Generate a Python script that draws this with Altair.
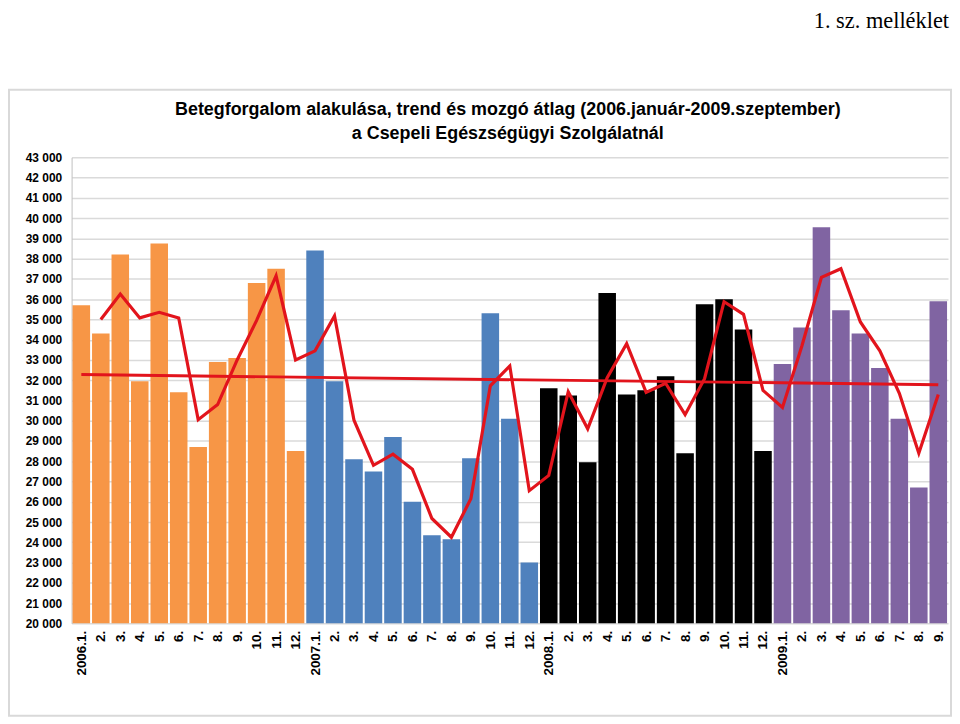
import altair as alt
import pandas as pd

labels = ["2006.1.", "2.", "3.", "4.", "5.", "6.", "7.", "8.", "9.", "10.", "11.", "12.",
          "2007.1.", "2.", "3.", "4.", "5.", "6.", "7.", "8.", "9.", "10.", "11.", "12.",
          "2008.1.", "2.", "3.", "4.", "5.", "6.", "7.", "8.", "9.", "10.", "11.", "12.",
          "2009.1.", "2.", "3.", "4.", "5.", "6.", "7.", "8.", "9."]
years = ["2006"] * 12 + ["2007"] * 12 + ["2008"] * 12 + ["2009"] * 9
values = [35700, 34300, 38200, 31950, 38750, 31400, 28700, 32900, 33100, 36800, 37500, 28500,
          38400, 31950, 28100, 27500, 29200, 26000, 24350, 24150, 28150, 35300, 30100, 23000,
          31600, 31250, 27950, 36300, 31300, 31500, 32200, 28400, 35750, 36000, 34500, 28500,
          32800, 34600, 39550, 35450, 34300, 32600, 30100, 26700, 35900]
year_names = ["2006", "2007", "2008", "2009"]
year_colors = ["#F79646", "#4F81BD", "#000000", "#8064A2"]
y_ticks = list(range(20000, 43001, 1000))

title_lines = ["Betegforgalom alakulása,  trend és mozgó átlag (2006.január-2009.szeptember)",
               "a Csepeli Egészségügyi Szolgálatnál"]
header = "1. sz. melléklet"

RED = "#E2141C"
W, H = 882, 469

df = pd.DataFrame({"idx": list(range(len(values))), "label": labels,
                   "year": years, "value": values})

label_expr = "[" + ",".join("'" + l + "'" for l in labels) + "][datum.value]"

x_scale = alt.Scale(domain=[-0.5, len(values) - 0.5], nice=False, zero=False)
x_axis = alt.Axis(title=None, values=list(range(len(values))), labelExpr=label_expr,
                  labelAngle=-90, labelFont="Liberation Sans", labelFontSize=13.5,
                  labelFontWeight="bold", labelColor="#000000", ticks=False,
                  domain=False, grid=False, labelPadding=7, labelOverlap=False)
y_scale = alt.Scale(domain=[20000, 43000], nice=False, zero=False)
y_axis = alt.Axis(title=None, values=y_ticks,
                  labelExpr="replace(format(datum.value, ','), ',', ' ')",
                  labelFont="Liberation Sans", labelFontSize=12, labelFontWeight="bold",
                  labelColor="#000000", ticks=False, domain=True, domainColor="#BFBFBF",
                  grid=True, gridColor="#DADADA", gridWidth=1.5, labelPadding=10)

base = alt.Chart(df)

bars = base.transform_calculate(
    x0="datum.idx - 0.45", x1="datum.idx + 0.45"
).mark_bar(opacity=1).encode(
    x=alt.X("x0:Q", scale=x_scale, axis=x_axis),
    x2="x1:Q",
    y=alt.Y("value:Q", scale=y_scale, axis=y_axis),
    y2=alt.datum(20000),
    color=alt.Color("year:N", scale=alt.Scale(domain=year_names, range=year_colors),
                    legend=None),
)

trend = base.transform_regression("idx", "value").mark_line(
    color=RED, strokeWidth=3
).encode(
    x=alt.X("idx:Q", scale=x_scale, axis=x_axis),
    y=alt.Y("value:Q", scale=y_scale, axis=y_axis),
)

ma = base.transform_window(
    ma="mean(value)", n="count()", frame=[-1, 0], sort=[alt.SortField("idx")]
).transform_filter("datum.n == 2").mark_line(
    color=RED, strokeWidth=3.2
).encode(
    x=alt.X("idx:Q", scale=x_scale, axis=x_axis),
    y=alt.Y("ma:Q", scale=y_scale, axis=y_axis),
)

box = alt.Chart(pd.DataFrame({"a": [0]})).mark_rect(
    fill="#FFFFFF", fillOpacity=0, stroke="#D9D9D9", strokeWidth=2
).encode(
    x=alt.value(-63), x2=alt.value(W + 3), y=alt.value(-68), y2=alt.value(H + 93)
)

t1 = alt.Chart(pd.DataFrame({"t": [title_lines[0]]})).mark_text(
    font="Liberation Sans", fontSize=18, fontWeight="bold", color="#000000",
    align="center", baseline="middle"
).encode(text="t:N", x=alt.value(W / 2 - 2), y=alt.value(-48))

t2 = alt.Chart(pd.DataFrame({"t": [title_lines[1]]})).mark_text(
    font="Liberation Sans", fontSize=18, fontWeight="bold", color="#000000",
    align="center", baseline="middle"
).encode(text="t:N", x=alt.value(W / 2 - 2), y=alt.value(-23))

hdr = alt.Chart(pd.DataFrame({"t": [header]})).mark_text(
    font="Liberation Serif", fontSize=22.5, color="#000000",
    align="right", baseline="middle"
).encode(text="t:N", x=alt.value(W + 1), y=alt.value(-137))

chart = alt.layer(box, bars, trend, ma, t1, t2, hdr).properties(
    width=W, height=H,
    padding={"left": 64, "top": 148, "right": 4, "bottom": 96},
    autosize=alt.AutoSizeParams(type="none"),
    background="#FFFFFF",
).configure_view(stroke=None)

chart.save("out.html", embed_options={"renderer": "svg", "actions": False})
